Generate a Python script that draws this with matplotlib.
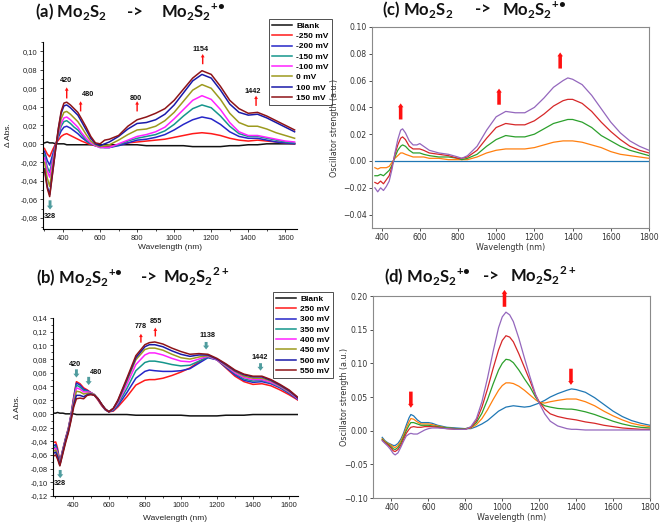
import matplotlib
matplotlib.use("Agg")
import matplotlib.pyplot as plt
from matplotlib.ticker import MultipleLocator, FuncFormatter
from matplotlib.font_manager import FontProperties

plt.rcParams['mathtext.fontset'] = 'custom'
plt.rcParams['mathtext.rm'] = 'Lato'
plt.rcParams['mathtext.bf'] = 'Lato:bold'

W, H = 663, 525

# ---------------- data: panel (a) ----------------
wl_a = [300, 315, 328, 345, 360, 375, 390, 405, 420, 440, 460, 480, 500, 525, 550, 575, 600, 625, 650,
        700, 750, 800, 850, 900, 950, 1000, 1050, 1100, 1150, 1200, 1250, 1300, 1350, 1400, 1450, 1500,
        1550, 1600, 1650]
a_blank = [0.001, 0.002, 0.001, 0.001, 0.000, 0.000, 0.000, 0.000, -0.001, -0.001, -0.001, -0.001, -0.001,
           -0.001, -0.001, -0.001, -0.001, -0.001, -0.001, -0.001, -0.001, -0.001, -0.002, -0.002, -0.002,
           -0.002, -0.002, -0.003, -0.003, -0.003, -0.003, -0.002, -0.002, -0.001, -0.001, 0.000, 0.000,
           0.000, 0.000]
a_m250 = [-0.005, -0.011, -0.014, -0.006, 0.000, 0.004, 0.008, 0.010, 0.011, 0.009, 0.007, 0.005, 0.003,
          0.001, -0.001, -0.002, -0.003, -0.003, -0.003, -0.001, 0.001, 0.002, 0.003, 0.004, 0.005, 0.007,
          0.009, 0.011, 0.012, 0.011, 0.009, 0.006, 0.004, 0.003, 0.004, 0.003, 0.002, 0.001, 0.000]
a_m200 = [-0.008, -0.018, -0.023, -0.011, -0.001, 0.007, 0.014, 0.018, 0.019, 0.017, 0.014, 0.011, 0.007,
          0.003, 0.000, -0.002, -0.003, -0.004, -0.004, -0.002, 0.001, 0.004, 0.005, 0.007, 0.010, 0.015,
          0.021, 0.026, 0.029, 0.027, 0.021, 0.013, 0.008, 0.006, 0.006, 0.004, 0.002, 0.001, 0.000]
a_m150 = [-0.012, -0.025, -0.031, -0.015, -0.002, 0.009, 0.019, 0.024, 0.025, 0.022, 0.018, 0.015, 0.010,
          0.004, 0.000, -0.002, -0.004, -0.004, -0.004, -0.001, 0.003, 0.006, 0.008, 0.010, 0.014, 0.021,
          0.030, 0.038, 0.042, 0.039, 0.030, 0.019, 0.011, 0.008, 0.008, 0.006, 0.004, 0.002, 0.001]
a_m100 = [-0.015, -0.029, -0.036, -0.018, -0.003, 0.011, 0.022, 0.028, 0.029, 0.026, 0.022, 0.018, 0.012,
          0.006, 0.001, -0.002, -0.004, -0.004, -0.004, 0.000, 0.004, 0.008, 0.010, 0.013, 0.018, 0.027,
          0.037, 0.047, 0.052, 0.048, 0.037, 0.023, 0.013, 0.009, 0.009, 0.007, 0.005, 0.003, 0.002]
a_p0 = [-0.020, -0.037, -0.046, -0.024, -0.004, 0.013, 0.027, 0.034, 0.035, 0.032, 0.028, 0.024, 0.018,
        0.010, 0.003, -0.001, -0.003, -0.002, -0.001, 0.004, 0.010, 0.015, 0.016, 0.019, 0.025, 0.034,
        0.046, 0.058, 0.064, 0.060, 0.048, 0.033, 0.023, 0.019, 0.019, 0.016, 0.012, 0.009, 0.006]
a_p100 = [-0.027, -0.046, -0.055, -0.029, -0.006, 0.016, 0.033, 0.041, 0.042, 0.039, 0.035, 0.031, 0.024,
          0.015, 0.006, 0.000, -0.002, 0.000, 0.002, 0.008, 0.016, 0.022, 0.023, 0.026, 0.032, 0.042,
          0.055, 0.068, 0.075, 0.071, 0.058, 0.043, 0.034, 0.031, 0.032, 0.028, 0.023, 0.018, 0.013]
a_p150 = [-0.028, -0.048, -0.057, -0.030, -0.006, 0.017, 0.035, 0.044, 0.045, 0.042, 0.038, 0.034, 0.027,
          0.018, 0.008, 0.001, 0.000, 0.004, 0.005, 0.009, 0.019, 0.026, 0.029, 0.033, 0.038, 0.047,
          0.059, 0.071, 0.079, 0.075, 0.062, 0.047, 0.038, 0.033, 0.034, 0.030, 0.025, 0.020, 0.015]
labels_a = ['Blank', '-250 mV', '-200 mV', '-150 mV', '-100 mV', '0 mV', '100 mV', '150 mV']
colors_a = ['#111111', '#ff1a1a', '#2626c8', '#15968c', '#ff22ff', '#9c9a1e', '#1a1aa8', '#8e1418']

# ---------------- data: panel (b) ----------------
wl_b = [290, 305, 315, 328, 345, 360, 375, 390, 405, 420, 440, 460, 480, 500, 520, 540, 560, 580, 600, 625,
        650, 700, 750, 800, 825, 855, 900, 950, 1000, 1050, 1100, 1150, 1200, 1250, 1300, 1350, 1400, 1450,
        1500, 1550, 1600, 1650]
b_blank = [0.001, 0.001, 0.002, 0.001, 0.001, 0.000, 0.000, 0.000, 0.000, -0.001, -0.001, -0.001, -0.001,
           -0.001, -0.001, -0.001, -0.001, -0.001, -0.001, -0.001, -0.001, -0.001, -0.002, -0.002, -0.002,
           -0.002, -0.002, -0.002, -0.002, -0.003, -0.003, -0.003, -0.003, -0.002, -0.002, -0.002, -0.001,
           -0.001, -0.001, -0.001, -0.001, -0.001]
b_250 = [-0.042, -0.041, -0.050, -0.070, -0.051, -0.035, -0.021, -0.001, 0.025, 0.047, 0.044, 0.038, 0.035,
         0.031, 0.027, 0.020, 0.012, 0.006, 0.003, 0.004, 0.010, 0.025, 0.042, 0.049, 0.050, 0.050, 0.052,
         0.056, 0.061, 0.067, 0.076, 0.084, 0.079, 0.067, 0.055, 0.047, 0.043, 0.044, 0.041, 0.035, 0.028, 0.020]
b_300 = [-0.047, -0.045, -0.053, -0.071, -0.052, -0.036, -0.022, -0.002, 0.023, 0.045, 0.042, 0.036, 0.034,
         0.031, 0.028, 0.021, 0.013, 0.006, 0.003, 0.005, 0.012, 0.031, 0.052, 0.062, 0.064, 0.063, 0.062,
         0.062, 0.063, 0.066, 0.074, 0.082, 0.079, 0.068, 0.057, 0.049, 0.046, 0.047, 0.044, 0.038, 0.030, 0.021]
b_350 = [-0.050, -0.048, -0.055, -0.072, -0.053, -0.037, -0.023, -0.003, 0.021, 0.042, 0.039, 0.034, 0.033,
         0.031, 0.028, 0.022, 0.014, 0.007, 0.003, 0.006, 0.014, 0.037, 0.063, 0.075, 0.077, 0.077, 0.075,
         0.072, 0.070, 0.071, 0.077, 0.083, 0.079, 0.069, 0.059, 0.051, 0.048, 0.049, 0.045, 0.039, 0.031, 0.022]
b_400 = [-0.052, -0.050, -0.057, -0.073, -0.054, -0.038, -0.024, -0.004, 0.019, 0.038, 0.036, 0.032, 0.032,
         0.031, 0.028, 0.022, 0.014, 0.007, 0.003, 0.007, 0.016, 0.043, 0.072, 0.086, 0.089, 0.089, 0.086,
         0.081, 0.077, 0.076, 0.080, 0.084, 0.079, 0.070, 0.060, 0.053, 0.050, 0.050, 0.046, 0.040, 0.032, 0.022]
b_450 = [-0.055, -0.053, -0.059, -0.074, -0.055, -0.039, -0.025, -0.006, 0.016, 0.033, 0.032, 0.029, 0.030,
         0.030, 0.028, 0.022, 0.014, 0.007, 0.003, 0.008, 0.018, 0.048, 0.079, 0.094, 0.096, 0.096, 0.093,
         0.087, 0.082, 0.080, 0.083, 0.085, 0.080, 0.071, 0.062, 0.055, 0.052, 0.052, 0.048, 0.041, 0.033, 0.023]
b_500 = [-0.058, -0.056, -0.062, -0.075, -0.056, -0.040, -0.026, -0.008, 0.013, 0.027, 0.027, 0.025, 0.028,
         0.029, 0.027, 0.022, 0.014, 0.007, 0.003, 0.008, 0.019, 0.050, 0.082, 0.098, 0.101, 0.101, 0.098,
         0.092, 0.087, 0.084, 0.086, 0.086, 0.080, 0.072, 0.063, 0.057, 0.054, 0.054, 0.049, 0.042, 0.034, 0.023]
b_550 = [-0.062, -0.060, -0.066, -0.076, -0.058, -0.042, -0.028, -0.010, 0.010, 0.022, 0.023, 0.022, 0.027,
         0.028, 0.027, 0.022, 0.014, 0.007, 0.003, 0.008, 0.020, 0.052, 0.085, 0.101, 0.104, 0.105, 0.102,
         0.096, 0.091, 0.087, 0.088, 0.087, 0.081, 0.073, 0.064, 0.058, 0.055, 0.055, 0.050, 0.043, 0.035, 0.024]
labels_b = ['Blank', '250 mV', '300 mV', '350 mV', '400 mV', '450 mV', '500 mV', '550 mV']
colors_b = ['#111111', '#ff1a1a', '#2626c8', '#15968c', '#ff22ff', '#9c9a1e', '#1a1aa8', '#8e1418']

# ---------------- data: panel (c) ----------------
wl_c = [365, 380, 395, 410, 425, 440, 455, 470, 485, 500, 510, 525, 545, 565, 585, 600, 620, 650, 700, 750,
        800, 820, 850, 900, 950, 1000, 1050, 1100, 1150, 1200, 1250, 1300, 1350, 1375, 1400, 1450, 1500,
        1550, 1600, 1650, 1700, 1750, 1800]
c_0 = [0.0] * 43
c_1 = [-0.005, -0.006, -0.005, -0.005, -0.005, -0.004, -0.001, 0.002, 0.004, 0.006, 0.006, 0.005, 0.004,
       0.003, 0.003, 0.003, 0.003, 0.002, 0.002, 0.001, 0.001, 0.001, 0.001, 0.003, 0.006, 0.008, 0.009,
       0.009, 0.009, 0.010, 0.012, 0.014, 0.015, 0.015, 0.015, 0.014, 0.012, 0.010, 0.007, 0.005, 0.004,
       0.003, 0.002]
c_2 = [-0.011, -0.011, -0.010, -0.011, -0.009, -0.007, -0.003, 0.003, 0.008, 0.011, 0.012, 0.011, 0.008,
       0.006, 0.006, 0.006, 0.005, 0.004, 0.003, 0.003, 0.002, 0.001, 0.002, 0.005, 0.011, 0.016, 0.019,
       0.018, 0.018, 0.020, 0.024, 0.028, 0.030, 0.031, 0.031, 0.029, 0.025, 0.019, 0.015, 0.011, 0.008,
       0.006, 0.004]
c_3 = [-0.016, -0.017, -0.015, -0.017, -0.014, -0.011, -0.004, 0.005, 0.012, 0.017, 0.018, 0.016, 0.011,
       0.009, 0.009, 0.009, 0.008, 0.006, 0.005, 0.004, 0.002, 0.002, 0.003, 0.008, 0.017, 0.025, 0.028,
       0.027, 0.027, 0.030, 0.035, 0.041, 0.045, 0.046, 0.046, 0.043, 0.037, 0.029, 0.022, 0.016, 0.011,
       0.008, 0.006]
c_4 = [-0.020, -0.023, -0.020, -0.022, -0.019, -0.015, -0.006, 0.006, 0.016, 0.023, 0.024, 0.021, 0.015,
       0.012, 0.012, 0.013, 0.011, 0.008, 0.006, 0.005, 0.003, 0.002, 0.004, 0.011, 0.023, 0.033, 0.037,
       0.036, 0.036, 0.040, 0.047, 0.055, 0.060, 0.062, 0.061, 0.057, 0.049, 0.039, 0.029, 0.021, 0.015,
       0.011, 0.008]

# ---------------- data: panel (d) ----------------
wl_d = [350, 365, 380, 395, 410, 420, 435, 450, 465, 480, 495, 505, 520, 540, 560, 580, 600, 620, 650, 700,
        750, 800, 830, 860, 890, 920, 950, 980, 1000, 1020, 1040, 1060, 1090, 1120, 1150, 1180, 1200, 1230,
        1260, 1300, 1350, 1375, 1400, 1450, 1500, 1550, 1600, 1650, 1700, 1750, 1800]
d_0 = [-0.010, -0.015, -0.018, -0.020, -0.022, -0.022, -0.019, -0.013, -0.004, 0.008, 0.019, 0.024, 0.022,
       0.016, 0.012, 0.012, 0.012, 0.011, 0.008, 0.005, 0.004, 0.003, 0.003, 0.006, 0.010, 0.015, 0.022,
       0.029, 0.032, 0.035, 0.036, 0.037, 0.036, 0.035, 0.036, 0.039, 0.041, 0.045, 0.050, 0.055, 0.060,
       0.062, 0.061, 0.057, 0.049, 0.039, 0.029, 0.021, 0.015, 0.011, 0.008]
d_1 = [-0.012, -0.016, -0.019, -0.021, -0.024, -0.025, -0.022, -0.016, -0.007, 0.004, 0.013, 0.018, 0.017,
       0.013, 0.010, 0.010, 0.010, 0.009, 0.007, 0.004, 0.003, 0.003, 0.004, 0.009, 0.018, 0.031, 0.046,
       0.060, 0.067, 0.071, 0.071, 0.070, 0.066, 0.060, 0.053, 0.046, 0.042, 0.041, 0.043, 0.045, 0.047,
       0.047, 0.047, 0.043, 0.037, 0.029, 0.022, 0.016, 0.011, 0.008, 0.006]
d_2 = [-0.013, -0.017, -0.020, -0.023, -0.027, -0.028, -0.025, -0.019, -0.010, 0.000, 0.008, 0.012, 0.012,
       0.010, 0.008, 0.008, 0.008, 0.007, 0.006, 0.004, 0.003, 0.003, 0.005, 0.012, 0.026, 0.046, 0.069,
       0.090, 0.100, 0.106, 0.105, 0.101, 0.090, 0.077, 0.065, 0.050, 0.042, 0.037, 0.035, 0.033, 0.032,
       0.032, 0.031, 0.028, 0.024, 0.019, 0.014, 0.010, 0.007, 0.005, 0.004]
d_3 = [-0.014, -0.018, -0.021, -0.025, -0.030, -0.031, -0.028, -0.022, -0.013, -0.004, 0.002, 0.005, 0.006,
       0.005, 0.005, 0.006, 0.006, 0.006, 0.005, 0.003, 0.002, 0.002, 0.005, 0.015, 0.035, 0.062, 0.092,
       0.120, 0.134, 0.141, 0.139, 0.132, 0.114, 0.094, 0.074, 0.053, 0.043, 0.032, 0.025, 0.021, 0.018,
       0.017, 0.016, 0.013, 0.011, 0.008, 0.006, 0.004, 0.003, 0.002, 0.002]
d_4 = [-0.015, -0.019, -0.023, -0.028, -0.034, -0.036, -0.033, -0.025, -0.016, -0.008, -0.005, -0.004, -0.005,
       -0.005, -0.002, 0.001, 0.003, 0.004, 0.004, 0.003, 0.002, 0.002, 0.006, 0.018, 0.043, 0.078, 0.117,
       0.153, 0.169, 0.176, 0.172, 0.162, 0.137, 0.108, 0.080, 0.054, 0.041, 0.025, 0.014, 0.007, 0.003,
       0.002, 0.002, 0.001, 0.001, 0.001, 0.001, 0.001, 0.001, 0.001, 0.001]
colors_cd = ['#1f77b4', '#ff7f0e', '#2ca02c', '#d62728', '#9467bd']

# ---------------- figure ----------------
fig = plt.figure(figsize=(W / 100, H / 100), dpi=100)


def px_axes(l, t, r, b, z=0):
    return fig.add_axes([l / W, 1 - b / H, (r - l) / W, (b - t) / H], zorder=z)


ORI = 'Liberation Sans'
comma = FuncFormatter(lambda v, p: ('%.2f' % v).replace('.', ',').replace('-0,00', '0,00'))


def origin_style(ax, xlim, ylim):
    ax.set_xlim(*xlim)
    ax.set_ylim(*ylim)
    for s in ('top', 'right'):
        ax.spines[s].set_visible(False)
    for s in ('left', 'bottom'):
        ax.spines[s].set_linewidth(0.8)
    ax.xaxis.set_major_locator(MultipleLocator(200))
    ax.xaxis.set_minor_locator(MultipleLocator(100))
    ax.yaxis.set_major_locator(MultipleLocator(0.02))
    ax.yaxis.set_minor_locator(MultipleLocator(0.01))
    ax.yaxis.set_major_formatter(comma)
    ax.tick_params(which='major', direction='out', length=2.5, width=0.6, labelsize=5.4, pad=1.5,
                   colors='#222222')
    ax.tick_params(which='minor', direction='out', length=1.4, width=0.5)
    for lab in ax.get_xticklabels() + ax.get_yticklabels():
        lab.set_fontfamily(ORI)
    ax.set_facecolor('none')


def mpl_style(ax, xlim, ylim, ystep):
    ax.set_xlim(*xlim)
    ax.set_ylim(*ylim)
    for s in ax.spines.values():
        s.set_color('#8a8a8a')
        s.set_linewidth(0.8)
    ax.xaxis.set_major_locator(MultipleLocator(200))
    ax.yaxis.set_major_locator(MultipleLocator(ystep))
    ax.tick_params(direction='out', length=2.2, width=0.6, labelsize=5.6, pad=1.5, colors='#333333')
    ax.set_facecolor('none')


def arrow(ax, x, y0, y1, color, style):
    ax.annotate('', xy=(x, y1), xytext=(x, y0), annotation_clip=False,
                arrowprops=dict(arrowstyle=style, color=color, lw=0, mutation_scale=8,
                                shrinkA=0, shrinkB=0))


thin_red = 'simple,head_length=0.3,head_width=0.34,tail_width=0.13'
thick_teal = 'simple,head_length=0.35,head_width=0.55,tail_width=0.26'
block_red = 'simple,head_length=0.35,head_width=0.5,tail_width=0.32'

lab_font = dict(family=ORI, weight='bold', size=5.2, color='#111111')
leg_prop = FontProperties(family=ORI, weight='bold', size=6.0)

# ---------- panel (a) ----------
axa = px_axes(43, 42, 297, 229)
origin_style(axa, (292, 1663), (-0.092, 0.110))
ys_a = [a_blank, a_m250, a_m200, a_m150, a_m100, a_p0, a_p100, a_p150]
for yv, c, lb in zip(ys_a, colors_a, labels_a):
    axa.plot(wl_a, yv, color=c, lw=1.1, label=lb)
axa.set_xlabel('Wavelength (nm)', fontfamily=ORI, fontsize=6.0, color='#222222')
axa.xaxis.set_label_coords((170 - 43) / 254, -(244 - 229) / 187)
axa.set_ylabel('Δ Abs.', fontfamily=ORI, fontsize=6.0, color='#222222')
axa.yaxis.set_label_coords(-(43 - 12) / 254, 0.5)
leg = axa.legend(loc='upper left', bbox_to_anchor=(269 / W, 1 - 19 / H), bbox_transform=fig.transFigure,
                 borderaxespad=0, frameon=True, fancybox=False, edgecolor='#222222', borderpad=0.35,
                 labelspacing=0.3, handlelength=2.4, handletextpad=0.5, prop=leg_prop)
leg.get_frame().set_linewidth(0.7)

red = '#ff1010'
teal = '#4f9c9e'
for lbl, x, y0, y1, tx, ty in [('420', 420, 0.049, 0.061, 418, 0.068), ('480', 495, 0.035, 0.046, 535, 0.053),
                               ('800', 800, 0.035, 0.046, 795, 0.049), ('1154', 1154, 0.086, 0.097, 1145, 0.102),
                               ('1442', 1442, 0.041, 0.052, 1423, 0.056)]:
    arrow(axa, x, y0, y1, red, thin_red)
    axa.text(tx, ty, lbl, ha='center', va='center', **lab_font)
arrow(axa, 330, -0.061, -0.071, teal, thick_teal)
axa.text(330, -0.078, '328', ha='center', va='center', **lab_font)

# ---------- panel (b) ----------
axb = px_axes(53, 318, 298, 496)
origin_style(axb, (290, 1650), (-0.12, 0.14))
ys_b = [b_blank, b_250, b_300, b_350, b_400, b_450, b_500, b_550]
for yv, c, lb in zip(ys_b, colors_b, labels_b):
    axb.plot(wl_b, yv, color=c, lw=1.1, label=lb)
axb.set_xlabel('Wavelength (nm)', fontfamily=ORI, fontsize=6.0, color='#222222')
axb.xaxis.set_label_coords((175 - 53) / 245, -(515 - 496) / 178)
axb.set_ylabel('Δ Abs.', fontfamily=ORI, fontsize=6.0, color='#222222')
axb.yaxis.set_label_coords(-(53 - 21) / 245, 0.5)
legb = axb.legend(loc='upper left', bbox_to_anchor=(273 / W, 1 - 292 / H), bbox_transform=fig.transFigure,
                  borderaxespad=0, frameon=True, fancybox=False, edgecolor='#222222', borderpad=0.35,
                  labelspacing=0.3, handlelength=2.4, handletextpad=0.5, prop=leg_prop)
legb.get_frame().set_linewidth(0.7)
for lbl, x, y0, y1, tx, ty in [('778', 778, 0.104, 0.117, 775, 0.127), ('855', 858, 0.113, 0.126, 860, 0.135)]:
    arrow(axb, x, y0, y1, red, thin_red)
    axb.text(tx, ty, lbl, ha='center', va='center', **lab_font)
for lbl, x, y0, y1, tx, ty in [('328', 330, -0.082, -0.094, 330, -0.102), ('420', 420, 0.065, 0.053, 412, 0.072),
                               ('480', 488, 0.054, 0.042, 528, 0.061), ('1138', 1140, 0.105, 0.094, 1150, 0.114),
                               ('1442', 1442, 0.074, 0.063, 1440, 0.083)]:
    arrow(axb, x, y0, y1, teal, thick_teal)
    axb.text(tx, ty, lbl, ha='center', va='center', **lab_font)

# ---------- panel (c) ----------
axc = px_axes(372, 27, 649, 228)
mpl_style(axc, (350, 1800), (-0.05, 0.10), 0.02)
for yv, c in zip([c_0, c_1, c_2, c_3, c_4], colors_cd):
    axc.plot(wl_c, yv, color=c, lw=0.9)
axc.set_xlabel('Wavelength (nm)', fontsize=5.8, labelpad=0.5, color='#333333')
axc.set_ylabel('Oscillator strength (a.u.)', fontsize=5.8, color='#333333')
axc.yaxis.set_label_coords(-(372 - 339) / 277, 0.5)
for x, y0, y1 in [(500, 0.031, 0.043), (1015, 0.042, 0.054), (1335, 0.069, 0.081)]:
    arrow(axc, x, y0, y1, red, block_red)

# ---------- panel (d) ----------
axd = px_axes(373, 296, 650, 498)
mpl_style(axd, (300, 1800), (-0.10, 0.20), 0.05)
for yv, c in zip([d_0, d_1, d_2, d_3, d_4], colors_cd):
    axd.plot(wl_d, yv, color=c, lw=0.9)
axd.set_xlabel('Wavelength (nm)', fontsize=5.8, labelpad=0.5, color='#333333')
axd.set_ylabel('Oscillator strength (a.u.)', fontsize=5.8, color='#333333')
axd.yaxis.set_label_coords(-(373 - 349) / 277, 0.5)
arrow(axd, 505, 0.058, 0.034, red, block_red)
arrow(axd, 1012, 0.184, 0.209, red, block_red)
arrow(axd, 1372, 0.092, 0.068, red, block_red)

# ---------- titles ----------
tfont = dict(family='Lato', weight='bold', size=12, color='#111111', va='baseline', ha='left')
sub = r'Mo$_\mathbf{2}$S$_\mathbf{2}$'
rad = '$^{\\mathbf{+•}}$'
dic = r'$^{\mathbf{2+}}$'
for (x1, x2, x3, yb, tag, left_sup, right_sup) in [
        (35, 127, 161, 17.5, '(a) ', '', rad),
        (382, 475, 502, 15, '(c) ', '', rad),
        (36, 141, 163, 283, '(b) ', rad, dic),
        (384, 483, 510, 282, '(d) ', rad, dic)]:
    fig.text(x1 / W, 1 - yb / H, tag + sub + left_sup, **tfont)
    fig.text(x2 / W, 1 - yb / H, '->', **tfont)
    fig.text(x3 / W, 1 - yb / H, sub + right_sup, **tfont)

fig.savefig('out.png', dpi=100, facecolor='white')
